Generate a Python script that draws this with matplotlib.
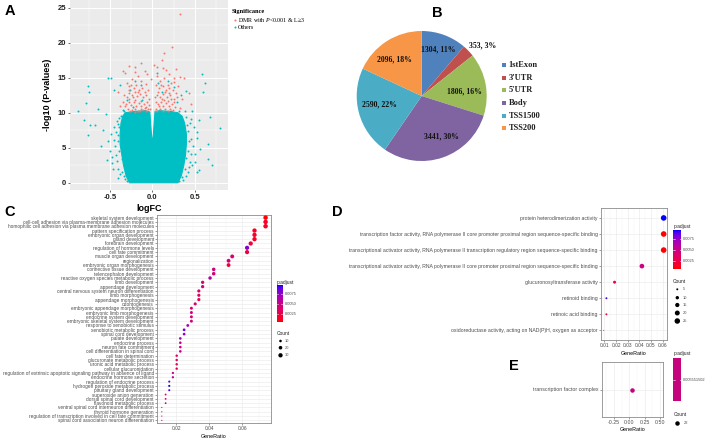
import numpy as np
import matplotlib
matplotlib.use('Agg')
import matplotlib.pyplot as plt
from matplotlib.colors import LinearSegmentedColormap
from matplotlib.patches import Rectangle

plt.rcParams['mathtext.fontset'] = 'custom'
plt.rcParams['mathtext.it'] = 'Liberation Serif:italic'
plt.rcParams['mathtext.rm'] = 'Liberation Serif'

# ---------------- DATA ----------------
# Panel A: volcano plot (outline of the dense cloud + individual points)
core_fc = [-0.27, -0.31, -0.34, -0.36, -0.38, -0.38, -0.37, -0.35, -0.32, -0.20, -0.08, -0.03,
           -0.018, -0.008, 0.0, 0.008, 0.018, 0.03, 0.08, 0.20, 0.30, 0.35, 0.38, 0.40, 0.40,
           0.39, 0.37, 0.34, 0.30]
core_logp = [0.0, 1.0, 2.5, 4.0, 5.5, 7.0, 8.5, 9.5, 10.0, 10.2, 10.3, 10.1,
             8.0, 6.5, 6.0, 6.5, 8.0, 10.1, 10.3, 10.2, 10.0, 9.5, 8.5, 7.0, 5.5,
             4.0, 2.5, 1.0, 0.0]

others_fc = [-0.87, -0.76, -0.75, -0.78, -0.80, -0.73, -0.67, -0.64, -0.76, -0.58, -0.55, -0.52,
             -0.49, -0.45, -0.50, -0.54, -0.48, -0.45, -0.42, -0.46, -0.40, -0.43, -0.41, -0.39,
             -0.32, -0.36, -0.60,
             0.80, 0.68, 0.65, 0.66, 0.58, 0.62, 0.60, 0.55, 0.52, 0.56, 0.50, 0.52, 0.47, 0.46,
             0.44, 0.43, 0.40, 0.36, 0.42, 0.48, 0.55, 0.70,
             -0.26, -0.20, -0.14, -0.30, -0.23, -0.12, -0.33, 0.07, 0.18, 0.26, 0.29, 0.22, 0.11,
             0.34, 0.39, -0.38, 0.31, 0.06,
             -0.40, -0.42, -0.39, -0.44, -0.40, -0.43, -0.39, -0.41, -0.37, -0.35, -0.47, -0.49,
             -0.38, -0.30, -0.27, -0.34, -0.45, -0.52, -0.36,
             0.42, 0.44, 0.43, 0.45, 0.42, 0.41, 0.40, 0.38, 0.47, 0.50, 0.49, 0.31, 0.35, 0.38,
             0.46, 0.53, 0.40]
others_logp = [10.3, 13.8, 12.9, 11.4, 9.0, 8.3, 8.3, 10.6, 6.8, 7.5, 9.8, 14.9,
               15.0, 13.2, 4.5, 3.3, 2.8, 6.1, 8.8, 1.9, 0.7, 4.0, 6.8, 9.2,
               0.5, 1.5, 5.3,
               7.8, 9.4, 5.5, 3.4, 15.5, 14.2, 12.9, 9.0, 7.2, 4.8, 3.0, 1.6, 10.3, 6.2,
               8.6, 2.2, 0.9, 0.4, 4.5, 5.3, 1.8, 2.5,
               13.3, 14.6, 14.0, 11.8, 10.8, 11.8, 10.3, 14.3, 14.5, 13.7, 11.5, 10.2, 12.9,
               12.6, 13.1, 13.9, 10.2, 15.7,
               2.0, 3.1, 4.6, 5.2, 6.0, 7.2, 7.9, 8.4, 9.6, 10.4, 3.7, 6.9,
               1.2, 0.2, 0.5, 0.9, 8.0, 5.9, 3.4,
               1.5, 3.0, 5.9, 4.1, 7.4, 8.2, 9.4, 10.2, 2.5, 4.1, 7.9, 0.3, 0.8, 1.9,
               9.1, 6.4, 3.5]

dmr_fc = [-0.35, -0.32, -0.27, -0.21, -0.13, -0.09, -0.30, -0.28, -0.25, -0.22, -0.19, -0.16,
          -0.12, -0.08, -0.05, -0.33, -0.30, -0.27, -0.24, -0.21, -0.18, -0.15, -0.11, -0.07,
          -0.04, -0.35, -0.31, -0.28, -0.25, -0.22, -0.19, -0.16, -0.13, -0.10, -0.07, -0.04,
          -0.29, -0.24, -0.20, -0.17, -0.14, -0.11, -0.08, -0.05, -0.40, -0.38, -0.02, -0.06,
          -0.17, -0.24,
          -0.26, -0.21, -0.15, -0.09, -0.13, -0.20, -0.27, -0.32, -0.06, -0.03, -0.23, -0.17,
          -0.09, -0.28, -0.13, -0.20,
          0.324, 0.226, 0.139, 0.108, 0.02, 0.06, 0.12, 0.16, 0.19, 0.28, 0.33, 0.37, 0.25,
          0.05, 0.09, 0.14, 0.22, 0.30, 0.04, 0.08, 0.12, 0.16, 0.20, 0.24, 0.28, 0.05, 0.09,
          0.13, 0.17, 0.21, 0.25, 0.04, 0.07, 0.10, 0.13, 0.16, 0.19, 0.23, 0.27, 0.04, 0.06,
          0.09, 0.12, 0.15, 0.18, 0.21, 0.43, 0.45, 0.35, 0.32,
          0.03, 0.08, 0.14, 0.18, 0.22, 0.26, 0.11, 0.07, 0.15, 0.19, 0.10, 0.18, 0.26, 0.03,
          0.24, 0.29]
dmr_logp = [15.9, 15.7, 16.7, 16.6, 17.1, 16.0, 14.2, 13.8, 13.9, 13.5, 13.9, 13.3,
            13.6, 14.1, 13.2, 12.6, 12.2, 12.8, 12.5, 12.9, 12.4, 12.7, 12.3, 12.6,
            12.0, 11.5, 11.2, 11.6, 11.1, 11.5, 11.0, 11.4, 10.9, 11.3, 10.8, 11.1,
            10.5, 10.4, 10.6, 10.3, 10.5, 10.4, 10.2, 10.5, 12.9, 11.0, 14.8, 15.5,
            15.2, 14.8,
            10.2, 10.1, 10.2, 10.7, 11.7, 11.8, 11.9, 11.0, 11.6, 10.6, 12.2, 13.0,
            13.0, 13.2, 14.5, 15.8,
            24.1, 19.4, 18.6, 17.6, 16.8, 16.5, 16.4, 16.1, 15.5, 16.3, 15.1, 14.9, 15.0,
            15.2, 14.6, 14.9, 14.3, 13.8, 13.9, 13.5, 13.8, 13.3, 13.6, 13.2, 12.8, 12.6, 12.3,
            12.7, 12.2, 12.5, 12.0, 11.6, 11.2, 11.5, 11.0, 11.4, 10.9, 11.2, 10.8, 10.5, 10.3,
            10.6, 10.2, 10.5, 10.3, 10.6, 12.8, 11.2, 12.0, 10.7,
            10.2, 10.9, 11.8, 11.7, 11.9, 11.6, 12.0, 12.9, 12.9, 12.8, 14.0, 13.9, 14.4, 12.3,
            10.4, 12.3]

# Panel B: pie chart
pie_labels = ["1stExon", "3'UTR", "5'UTR", "Body", "TSS1500", "TSS200"]
pie_values = [1304, 353, 1806, 3441, 2590, 2096]
pie_pct = ["11%", "3%", "16%", "30%", "22%", "18%"]

# Panel C: GO biological process dot plot
go_terms = [
    "skeletal system development",
    "cell-cell adhesion via plasma-membrane adhesion molecules",
    "homophilic cell adhesion via plasma membrane adhesion molecules",
    "pattern specification process",
    "embryonic organ development",
    "gland development",
    "forebrain development",
    "regulation of hormone levels",
    "cell fate commitment",
    "muscle organ development",
    "regionalization",
    "embryonic organ morphogenesis",
    "connective tissue development",
    "telencephalon development",
    "reactive oxygen species metabolic process",
    "limb development",
    "appendage development",
    "central nervous system neuron differentiation",
    "limb morphogenesis",
    "appendage morphogenesis",
    "odontogenesis",
    "embryonic appendage morphogenesis",
    "embryonic limb morphogenesis",
    "endocrine system development",
    "embryonic skeletal system development",
    "response to xenobiotic stimulus",
    "xenobiotic metabolic process",
    "spinal cord development",
    "palate development",
    "endocrine process",
    "neuron fate commitment",
    "cell differentiation in spinal cord",
    "cell fate determination",
    "glucuronate metabolic process",
    "uronic acid metabolic process",
    "cellular glucuronidation",
    "regulation of extrinsic apoptotic signaling pathway in absence of ligand",
    "endocrine hormone secretion",
    "regulation of endocrine process",
    "hydrogen peroxide metabolic process",
    "pituitary gland development",
    "superoxide anion generation",
    "dorsal spinal cord development",
    "flavonoid metabolic process",
    "ventral spinal cord interneuron differentiation",
    "thyroid hormone generation",
    "regulation of transcription involved in cell fate commitment",
    "spinal cord association neuron differentiation",
]
go_count = [33, 33, 33, 30, 30, 30, 29, 28, 28, 24, 23, 23, 19, 19, 18, 16, 16, 15, 15, 15,
            14, 13, 13, 13, 13, 12, 11, 11, 10, 10, 10, 10, 9, 9, 9, 9, 8, 8, 7, 7,
            7, 6, 6, 6, 5, 5, 5, 5]
go_ratio = [0.0740, 0.0740, 0.0740, 0.0673, 0.0673, 0.0673, 0.0650, 0.0628, 0.0628, 0.0538,
            0.0516, 0.0516, 0.0426, 0.0426, 0.0404, 0.0359, 0.0359, 0.0336, 0.0336, 0.0336,
            0.0314, 0.0291, 0.0291, 0.0291, 0.0291, 0.0269, 0.0247, 0.0247, 0.0224, 0.0224,
            0.0224, 0.0224, 0.0202, 0.0202, 0.0202, 0.0202, 0.0179, 0.0179, 0.0157, 0.0157,
            0.0157, 0.0135, 0.0135, 0.0135, 0.0112, 0.0112, 0.0112, 0.0112]
go_padj = [0.0003, 0.0012, 0.0010, 0.0010, 0.0015, 0.0010, 0.0020, 0.0080, 0.0020, 0.0040,
           0.0040, 0.0020, 0.0045, 0.0040, 0.0060, 0.0040, 0.0045, 0.0040, 0.0030, 0.0030,
           0.0040, 0.0040, 0.0045, 0.0040, 0.0045, 0.0065, 0.0085, 0.0075, 0.0070, 0.0050,
           0.0045, 0.0050, 0.0030, 0.0030, 0.0025, 0.0025, 0.0050, 0.0055, 0.0090, 0.0096,
           0.0090, 0.0040, 0.0040, 0.0050, 0.0040, 0.0040, 0.0040, 0.0040]

# Panel D: GO molecular function dot plot
mf_terms = [
    "protein heterodimerization activity",
    "transcription factor activity, RNA polymerase II core promoter proximal region sequence-specific binding",
    "transcriptional activator activity, RNA polymerase II transcription regulatory region sequence-specific binding",
    "transcriptional activator activity, RNA polymerase II core promoter proximal region sequence-specific binding",
    "glucuronosyltransferase activity",
    "retinoid binding",
    "retinoic acid binding",
    "oxidoreductase activity, acting on NAD(P)H, oxygen as acceptor",
]
mf_count = [26, 26, 26, 18, 8, 5, 5, 4]
mf_ratio = [0.0609, 0.0609, 0.0609, 0.0422, 0.0187, 0.0117, 0.0117, 0.0094]
mf_padj = [0.0094, 0.0006, 0.0006, 0.0048, 0.0025, 0.0090, 0.0020, 0.0030]

# Panel E: GO cellular component dot plot
cc_terms = ["transcription factor complex"]
cc_count = [22]
cc_ratio = [0.0514]
cc_padj = [0.005551502]

# ---------------- HELPERS ----------------
W, H = 716, 443
fig = plt.figure(figsize=(W / 100, H / 100), dpi=100)


def box(l, t, r, b):
    return [l / W, 1 - b / H, (r - l) / W, (b - t) / H]


M = np.array([[0.4124564, 0.3575761, 0.1804375],
              [0.2126729, 0.7151522, 0.0721750],
              [0.0193339, 0.1191920, 0.9503041]])
WP = np.array([0.95047, 1.0, 1.08883])


def srgb_to_lab(rgb):
    rgb = np.asarray(rgb, float)
    lin = np.where(rgb <= 0.04045, rgb / 12.92, ((rgb + 0.055) / 1.055) ** 2.4)
    t = (M @ lin) / WP
    f = np.where(t > (6 / 29) ** 3, np.cbrt(t), t / (3 * (6 / 29) ** 2) + 4 / 29)
    return np.array([116 * f[1] - 16, 500 * (f[0] - f[1]), 200 * (f[1] - f[2])])


def lab_to_srgb(lab):
    L, a, b = lab
    fy = (L + 16) / 116
    f = np.array([fy + a / 500, fy, fy - b / 200])
    t = np.where(f > 6 / 29, f ** 3, 3 * (6 / 29) ** 2 * (f - 4 / 29))
    lin = np.clip(np.linalg.inv(M) @ (t * WP), 0, 1)
    return np.clip(np.where(lin <= 0.0031308, 12.92 * lin, 1.055 * lin ** (1 / 2.4) - 0.055), 0, 1)


lab_r = srgb_to_lab([1, 0, 0])
lab_b = srgb_to_lab([0, 0, 1])
cols = [lab_to_srgb(lab_r + (lab_b - lab_r) * s) for s in np.linspace(0, 1, 64)]
cmap = LinearSegmentedColormap.from_list('rb_lab', cols)

SANS = 'Liberation Sans'
SERIF = 'Liberation Serif'
GRAY = '#4D4D4D'


def size_pts(counts, cmin, cmax, dmin, dmax):
    c = np.asarray(counts, float)
    d = dmin + (dmax - dmin) * np.sqrt((c - cmin) / (cmax - cmin)) if cmax > cmin else np.full_like(c, dmax)
    return (d * 0.72) ** 2


def style_dot_axes(ax, fs):
    ax.set_facecolor('white')
    for s in ax.spines.values():
        s.set_color('#8C8C8C')
        s.set_linewidth(0.6)
    ax.grid(which='major', color='#EBEBEB', lw=0.45, zorder=0)
    ax.grid(which='minor', axis='x', color='#F3F3F3', lw=0.3, zorder=0)
    ax.set_axisbelow(True)
    ax.tick_params(which='major', length=1.3, width=0.4, color='#555555', pad=0.8,
                   labelsize=fs, labelcolor=GRAY)
    ax.tick_params(which='minor', length=0)
    for lab in ax.get_xticklabels() + ax.get_yticklabels():
        lab.set_fontfamily(SANS)


# ---------------- PANEL A ----------------
axA = fig.add_axes(box(70, 0, 228, 190.5))
axA.set_facecolor('#EBEBEB')
axA.fill(core_fc, core_logp, color='#00BFC4', ec='#00BFC4', lw=0.8, zorder=2)
axA.scatter(others_fc, others_logp, s=2.0, c='#00BFC4', lw=0, zorder=3)
axA.scatter(dmr_fc, dmr_logp, s=2.0, c='#F8766D', lw=0, zorder=4)
axA.set_xlim(-0.97, 0.89)
axA.set_ylim(-1.1, 26.1)
axA.set_xticks([-0.5, 0.0, 0.5])
axA.set_xticklabels(['-0.5', '0.0', '0.5'])
axA.set_xticks([-0.75, -0.25, 0.25, 0.75], minor=True)
axA.set_yticks([0, 5, 10, 15, 20, 25])
axA.set_yticks([2.5, 7.5, 12.5, 17.5, 22.5], minor=True)
axA.grid(which='major', color='white', lw=0.7)
axA.grid(which='minor', color='white', lw=0.35)
axA.set_axisbelow(True)
for s in axA.spines.values():
    s.set_visible(False)
axA.tick_params(which='major', length=1.6, width=0.5, color='#333333', pad=1,
                labelsize=5.5, labelcolor='#222222')
axA.tick_params(which='minor', length=0)
for lab in axA.get_xticklabels() + axA.get_yticklabels():
    lab.set_fontweight('bold')
    lab.set_fontfamily(SANS)
axA.set_xlabel('logFC', fontsize=6.5, fontweight='bold', family=SANS, labelpad=2)
axA.set_ylabel('-log10 (P-values)', fontsize=6.5, fontweight='bold', family=SANS, labelpad=4)

# ---------------- PANEL B ----------------
axB = fig.add_axes(box(356.7, 31, 486.7, 161))
pie_colors = ['#4F81BD', '#C0504D', '#9BBB59', '#8064A2', '#4BACC6', '#F79646']
wedges, _ = axB.pie(pie_values, colors=pie_colors, startangle=90, counterclock=False,
                    radius=1, wedgeprops=dict(lw=0))
axB.set_xlim(-1, 1)
axB.set_ylim(-1, 1)
axB.set_aspect('equal')
lab_r_fac = [0.76, 1.22, 0.66, 0.70, 0.67, 0.70]
lab_d_ang = [1, -4, -4, 7, -4, 5]
tot = float(sum(pie_values))
cum = 0.0
for i, v in enumerate(pie_values):
    mid = 90 - 360 * (cum + v / 2) / tot + lab_d_ang[i]
    cum += v
    x = lab_r_fac[i] * np.cos(np.radians(mid))
    y = lab_r_fac[i] * np.sin(np.radians(mid))
    axB.text(x, y, f"{v}, {pie_pct[i]}", ha='center', va='center', fontsize=5.6,
             fontweight='bold', family=SERIF, color='#111111', clip_on=False)

# ---------------- PANEL C ----------------
axC = fig.add_axes(box(156.7, 215, 270.7, 423))
nC = len(go_terms)
yC = np.arange(nC, 0, -1)
axC.scatter(go_ratio, yC, s=size_pts(go_count, 5, 33, 1.2, 4.5), c=go_padj, cmap=cmap,
            vmin=0.0003, vmax=0.0096, lw=0, zorder=3)
axC.set_ylim(0.4, nC + 0.6)
axC.set_xlim(0.0081, 0.0771)
axC.set_yticks(yC)
axC.set_yticklabels(go_terms)
axC.set_xticks([0.02, 0.04, 0.06])
axC.set_xticklabels(['0.02', '0.04', '0.06'])
axC.set_xticks([0.01, 0.03, 0.05, 0.07], minor=True)
style_dot_axes(axC, 3.45)
axC.tick_params(axis='x', labelsize=3.5)
axC.set_xlabel('GeneRatio', fontsize=3.9, family=SANS, labelpad=2.5)

# ---------------- PANEL D ----------------
axD = fig.add_axes(box(600.7, 208.3, 666.7, 340))
nD = len(mf_terms)
yD = np.arange(nD, 0, -1)
axD.scatter(mf_ratio, yD, s=size_pts(mf_count, 4, 26, 1.0, 5.6), c=mf_padj, cmap=cmap,
            vmin=0.0006, vmax=0.0094, lw=0, zorder=3)
axD.set_ylim(0.4, nD + 0.6)
axD.set_xlim(0.0068, 0.0635)
axD.set_yticks(yD)
axD.set_yticklabels(mf_terms)
axD.set_xticks([0.01, 0.02, 0.03, 0.04, 0.05, 0.06])
axD.set_xticklabels(['0.01', '0.02', '0.03', '0.04', '0.05', '0.06'])
axD.set_xticks([0.015, 0.025, 0.035, 0.045, 0.055], minor=True)
style_dot_axes(axD, 3.7)
axD.tick_params(axis='x', labelsize=3.5)
axD.set_xlabel('GeneRatio', fontsize=3.9, family=SANS, labelpad=2)

# ---------------- PANEL E ----------------
axE = fig.add_axes(box(601.7, 362.3, 663, 416.7))
axE.scatter(cc_ratio, [1], s=size_pts(cc_count, 22, 22, 4.5, 4.5), c='#C4037D', lw=0, zorder=3)
axE.set_ylim(0.4, 1.6)
axE.set_xlim(cc_ratio[0] - 0.5, cc_ratio[0] + 0.5)
axE.set_yticks([1])
axE.set_yticklabels(cc_terms)
axE.set_xticks([-0.25, 0.0, 0.25, 0.5])
axE.set_xticklabels(['-0.25', '0.00', '0.25', '0.50'])
axE.set_xticks([-0.375, -0.125, 0.125, 0.375], minor=True)
style_dot_axes(axE, 3.8)
axE.set_xlabel('GeneRatio', fontsize=3.9, family=SANS, labelpad=1.5)

# ---------------- OVERLAY (legends, letters) ----------------
ov = fig.add_axes([0, 0, 1, 1], zorder=10)
ov.set_xlim(0, W)
ov.set_ylim(H, 0)
ov.axis('off')
ov.patch.set_alpha(0)

for letter, (lx, ly) in zip('ABCDE', [(10, 11), (437, 13), (10, 212), (337, 212), (514, 366)]):
    ov.text(lx, ly, letter, fontsize=10.5, fontweight='bold', family=SANS,
            ha='center', va='center')

# Panel A legend
ov.text(232, 11, 'Significance', fontsize=4.6, fontweight='bold', family=SERIF, va='center')
ov.scatter([234.5], [20.3], s=2.2, c='#F8766D', lw=0)
ov.scatter([234.5], [27.3], s=2.2, c='#00BFC4', lw=0)
ov.text(238, 20.3, r'DMR with $\it{P}$<0.001 & L≥3', fontsize=4.3, family=SERIF, va='center')
ov.text(238, 27.3, 'Others', fontsize=4.3, family=SERIF, va='center')

# Panel B legend
for i, lab in enumerate(pie_labels):
    yy = 65 + i * 12.7
    ov.add_patch(Rectangle((501.5, yy - 2.2), 4, 4, color=pie_colors[i], lw=0))
    ov.text(508.5, yy, lab, fontsize=6, fontweight='bold', family=SERIF, va='center',
            color='#1F1F1F')


def colorbar_legend(x0, y0, x1, y1, vmin, vmax, ticks, labels, title_y):
    grad = np.linspace(vmin, vmax, 100).reshape(-1, 1)
    ov.imshow(grad, cmap=cmap, vmin=vmin, vmax=vmax, extent=(x0, x1, y1, y0),
              origin='lower', aspect='auto', zorder=2)
    for t, lab in zip(ticks, labels):
        yy = y1 - (t - vmin) / (vmax - vmin) * (y1 - y0)
        ov.plot([x0, x0 + 1.2], [yy, yy], color='white', lw=0.4, zorder=3)
        ov.plot([x1 - 1.2, x1], [yy, yy], color='white', lw=0.4, zorder=3)
        ov.text(x1 + 2.3, yy, lab, fontsize=2.9, family=SANS, color=GRAY, va='center')
    ov.text(x0, title_y, 'p.adjust', fontsize=3.5, family=SANS, color='#222222', va='center')


# Panel C legend
colorbar_legend(277, 286, 282.3, 322.3, 0.0003, 0.0096, [0.0025, 0.005, 0.0075],
                ['0.0025', '0.0050', '0.0075'], 282.5)
ov.text(276.5, 333.5, 'Count', fontsize=3.5, family=SANS, color='#222222', va='center')
legC = [10, 20, 30]
ov.scatter([280.5] * 3, [341, 347.7, 355.3], s=size_pts(legC, 5, 33, 1.2, 4.5), c='black', lw=0)
for yy, c in zip([341, 347.7, 355.3], legC):
    ov.text(285, yy, str(c), fontsize=2.9, family=SANS, color=GRAY, va='center')

# Panel D legend
colorbar_legend(673.3, 231, 681, 269.3, 0.0006, 0.0094, [0.0025, 0.005, 0.0075],
                ['0.0025', '0.0050', '0.0075'], 226.7)
ov.text(673, 281.7, 'Count', fontsize=3.5, family=SANS, color='#222222', va='center')
legD = [5, 10, 15, 20, 25]
yD_leg = [289.3, 297.7, 305, 313, 321]
ov.scatter([677.3] * 5, yD_leg, s=size_pts(legD, 4, 26, 1.0, 5.6), c='black', lw=0)
for yy, c in zip(yD_leg, legD):
    ov.text(682.7, yy, str(c), fontsize=2.9, family=SANS, color=GRAY, va='center')

# Panel E legend
ov.add_patch(Rectangle((673.3, 358.3), 7.4, 42.7, color='#C4037D', lw=0))
ov.plot([673.3, 674.5], [379.6, 379.6], color='white', lw=0.4)
ov.plot([679.5, 680.7], [379.6, 379.6], color='white', lw=0.4)
ov.text(683.3, 379.6, '0.005551502', fontsize=2.9, family=SANS, color=GRAY, va='center')
ov.text(673.3, 353.8, 'p.adjust', fontsize=3.5, family=SANS, color='#222222', va='center')
ov.text(673.3, 415, 'Count', fontsize=3.5, family=SANS, color='#222222', va='center')
ov.scatter([677.3], [423.3], s=size_pts(cc_count, 22, 22, 4.5, 4.5), c='black', lw=0)
ov.text(683.3, 423.3, '22', fontsize=2.9, family=SANS, color=GRAY, va='center')

fig.savefig('out.png', dpi=100)
